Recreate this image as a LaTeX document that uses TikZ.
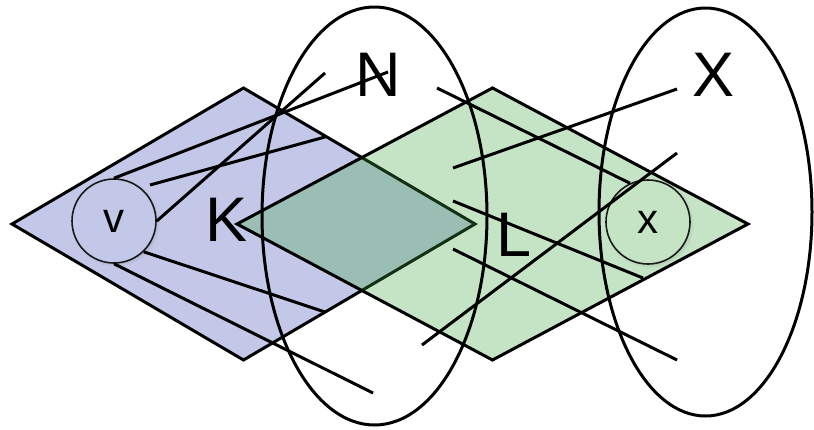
\documentclass[tikz,border=0pt]{standalone}
\usepackage{fontspec}
\setmainfont{Liberation Sans}
\usepackage{tikz}
\usepackage{xcolor}
\usetikzlibrary{shadows}
\definecolor{setblue}{HTML}{C3C8E8}
\definecolor{setgreen}{HTML}{3EA53E}
\definecolor{elemgreen}{HTML}{C4E4C4}
\definecolor{ringdark}{HTML}{1A1A1A}
\tikzset{
  % Sets drawn as diamonds
  setK/.style={draw=black, fill=setblue, line width=3pt},
  setL/.style={draw=black, fill=setgreen, fill opacity=0.3, line width=3pt},
  % Parts drawn as ellipses
  part/.style={draw=black, line width=3pt},
  % Elements
  elem/.style={
    circle, draw=ringdark, fill=#1, line width=1.6pt,
    minimum size=84pt, inner sep=0pt,
    font=\fontsize{42}{42}\selectfont,
    circular drop shadow={shadow xshift=1.5pt, shadow yshift=-1.5pt,
                          shadow scale=1.06, opacity=0.3},
  },
  % Labels
  setlabel/.style={inner sep=0pt, font=\fontsize{63}{63}\selectfont},
  % Links
  link/.style={line width=3pt, black},
}
\begin{document}
\begin{tikzpicture}[x=1pt, y=-1pt]
  \useasboundingbox (0,0) rectangle (814,429);

  % the two sets
  \filldraw[setK] (12,224) -- (243.5,88) -- (475,224) -- (243.5,360) -- cycle;
  \filldraw[setL] (237,224) -- (492.5,88) -- (748,224) -- (492.5,360) -- cycle;

  % elements
  \node[elem=setblue] (elv) at (114,221) {v};
  \node[elem=elemgreen] (elx) at (648,222) {x};

  % the two parts
  \draw[part] (374.5,216) ellipse [x radius=112.5pt, y radius=209pt];
  \draw[part] (705.5,212) ellipse [x radius=106.5pt, y radius=204pt];

  % free ends of the links
  \coordinate (na) at (388,72);
  \coordinate (nb) at (325,73);
  \coordinate (kc1) at (150,185);
  \coordinate (kc2) at (325,137);
  \coordinate (kd) at (325,312);
  \coordinate (ke) at (373,393);
  \coordinate (nf) at (437,88);
  \coordinate (lg1) at (453,168);
  \coordinate (xg) at (677,89);
  \coordinate (lh1) at (453,201);
  \coordinate (lh2) at (643,278);
  \coordinate (li1) at (453,249);
  \coordinate (xi) at (677,360);
  \coordinate (lj) at (422,345);
  \coordinate (xj) at (677,153);

  \draw[link] (elv.north) -- (na);
  \draw[link] (elv.east) -- (nb);
  \draw[link] (kc1) -- (kc2);
  \draw[link] (elv.-46) -- (kd);
  \draw[link] (elv.south) -- (ke);
  \draw[link] (nf) -- (elx.115);
  \draw[link] (lg1) -- (xg);
  \draw[link] (lh1) -- (lh2);
  \draw[link] (li1) -- (xi);
  \draw[link] (lj) -- (xj);

  % labels
  \node[setlabel] (labN) at (378.5,74.5) {N};
  \node[setlabel] (labX) at (714,75) {X};
  \node[setlabel] (labK) at (227,219.5) {K};
  \node[setlabel] (labL) at (514,235) {L};
\end{tikzpicture}
\end{document}
